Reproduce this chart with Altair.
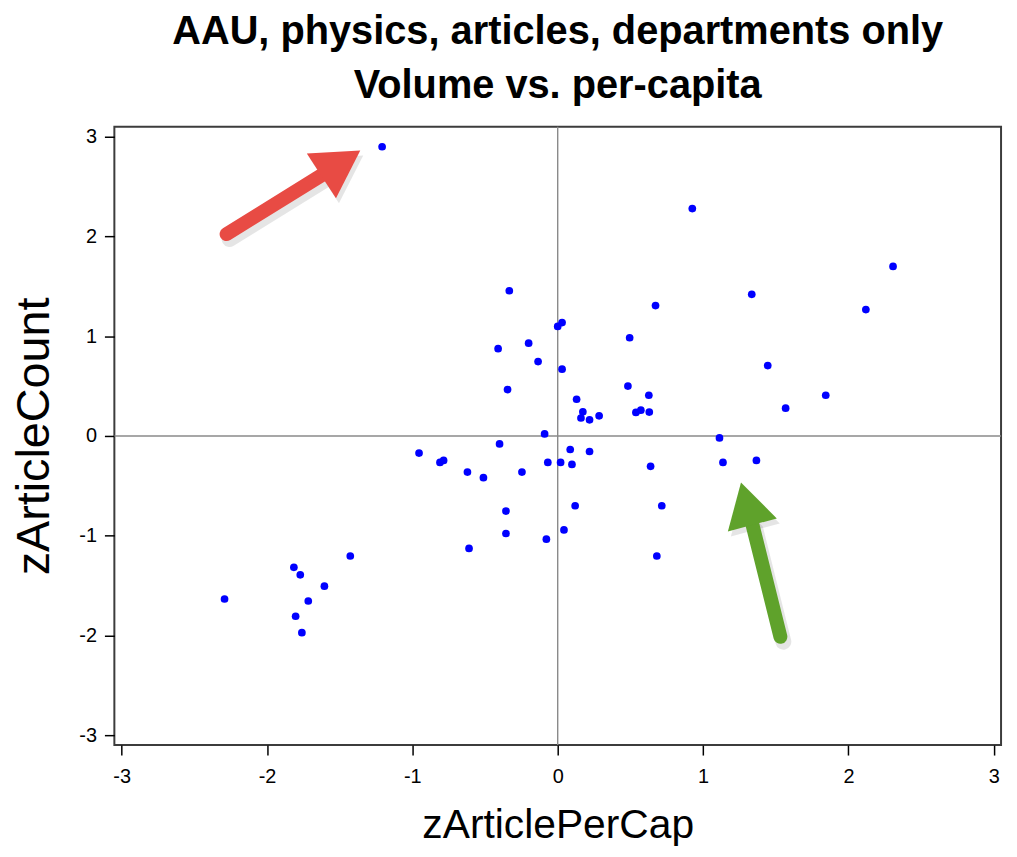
import altair as alt
import pandas as pd

# ---- data ----
z_article_per_cap = [
    -1.208, -0.333, -0.41, -0.20, -0.135, -0.345, -0.09, -0.40,
    0.926, 2.307, 1.335, 2.12, 0.673, 0.0, 0.03, 0.495, 0.03, 1.445,
    0.483, 0.13, 0.173, 0.16, 0.219, 0.285, 0.538, 0.572, 0.63, 0.627,
    1.568, 1.844, 1.113,
    -0.954, -0.81, -0.785, -0.621, -0.511, -0.246, -0.068,
    -0.356, -0.356, -0.078, -0.61, -1.427, -1.815, -1.771, -1.605,
    -2.292, -1.716, -1.803, -1.76,
    0.086, 0.219, 0.02, 0.098, 0.639, 1.137, 1.367, 0.12, 0.716, 0.043, 0.682,
]
z_article_count = [
    2.90, 1.456, 0.875, 0.93, 0.746, 0.465, 0.02, -0.08,
    2.28, 1.70, 1.42, 1.267, 1.307, 1.098, 1.137, 0.985, 0.67, 0.706,
    0.50, 0.368, 0.242, 0.18, 0.162, 0.202, 0.236, 0.259, 0.239, 0.408,
    0.279, 0.408, -0.02,
    -0.172, -0.265, -0.245, -0.362, -0.418, -0.362, -0.265,
    -0.753, -0.978, -1.035, -1.128, -1.204, -1.317, -1.393, -1.506,
    -1.635, -1.655, -1.808, -1.973,
    -0.136, -0.156, -0.265, -0.285, -0.305, -0.265, -0.245, -0.70, -0.70, -0.942, -1.204,
]
tick_values = [-3, -2, -1, 0, 1, 2, 3]
title_lines = ["AAU, physics, articles, departments only", "Volume vs. per-capita"]

# annotation arrows (data units): tail, shaft end, head centre, head angle
arrow_colors = ["#E84B44", "#5FA22B"]
arrow_tail_x = [-2.278, 1.532]
arrow_tail_y = [2.024, -2.014]
arrow_shaft_end_x = [-1.594, 1.341]
arrow_shaft_end_y = [2.642, -0.897]
arrow_head_x = [-1.492, 1.300]
arrow_head_y = [2.735, -0.680]
arrow_head_angle = [57, 345]
arrow_head_size = [2900, 2600]

points = pd.DataFrame({"zArticlePerCap": z_article_per_cap, "zArticleCount": z_article_count})
shafts = pd.DataFrame({
    "zArticlePerCap": arrow_tail_x, "zArticleCount": arrow_tail_y,
    "x_end": arrow_shaft_end_x, "y_end": arrow_shaft_end_y, "c": arrow_colors,
})
heads = pd.DataFrame({
    "zArticlePerCap": arrow_head_x, "zArticleCount": arrow_head_y,
    "ang": arrow_head_angle, "sz": arrow_head_size, "c": arrow_colors,
})
refs = pd.DataFrame({"zArticlePerCap": [0.0], "zArticleCount": [0.0]})

FONT = "Liberation Sans, Arial, sans-serif"
xscale = alt.Scale(domain=[-3.05, 3.05], nice=False, zero=False)
yscale = alt.Scale(domain=[-3.1, 3.1], nice=False, zero=False)

xaxis = alt.Axis(
    values=tick_values, labelExpr="'' + datum.value", grid=False, domain=False,
    tickSize=10, tickWidth=1.5, tickColor="black",
    labelFont=FONT, labelFontSize=20, labelColor="black", labelPadding=12,
    title="zArticlePerCap", titleFont=FONT, titleFontSize=41, titleFontWeight="normal",
    titleColor="black", titleBaseline="alphabetic", titleY=93,
)
yaxis = alt.Axis(
    values=tick_values, labelExpr="'' + datum.value", grid=False, domain=False,
    tickSize=10, tickWidth=1.5, tickColor="black",
    labelFont=FONT, labelFontSize=20, labelColor="black", labelPadding=8,
    title="zArticleCount", titleFont=FONT, titleFontSize=47, titleFontWeight="normal",
    titleColor="black", titleBaseline="alphabetic", titleX=-66,
)

X = alt.X("zArticlePerCap:Q", scale=xscale, axis=xaxis)
Y = alt.Y("zArticleCount:Q", scale=yscale, axis=yaxis)

vline = alt.Chart(refs).mark_rule(color="#8a8a8a", strokeWidth=1.4).encode(x=X)
hline = alt.Chart(refs).mark_rule(color="#8a8a8a", strokeWidth=1.4).encode(y=Y)

dots = alt.Chart(points).mark_circle(size=60, color="#0000FF", opacity=1).encode(x=X, y=Y)

shadow_shaft = alt.Chart(shafts).mark_rule(
    strokeWidth=16, strokeCap="round", color="#000000", opacity=0.1, xOffset=3, yOffset=5,
    x2Offset=3, y2Offset=5,
).encode(x=X, y=Y, x2="x_end:Q", y2="y_end:Q")
shadow_head = alt.Chart(heads).mark_point(
    shape="triangle-up", filled=True, opacity=0.1, color="#000000", xOffset=3, yOffset=5,
).encode(x=X, y=Y, angle=alt.Angle("ang:Q", scale=None), size=alt.Size("sz:Q", scale=None))
shaft = alt.Chart(shafts).mark_rule(strokeWidth=14, strokeCap="round", opacity=1).encode(
    x=X, y=Y, x2="x_end:Q", y2="y_end:Q", color=alt.Color("c:N", scale=None)
)
head = alt.Chart(heads).mark_point(shape="triangle-up", filled=True, opacity=1).encode(
    x=X, y=Y, angle=alt.Angle("ang:Q", scale=None), size=alt.Size("sz:Q", scale=None),
    color=alt.Color("c:N", scale=None),
)

chart = alt.layer(vline, hline, dots, shadow_shaft, shadow_head, shaft, head).properties(
    width=892, height=622,
    title=alt.TitleParams(
        text=title_lines, font=FONT, fontSize=40, fontWeight="bold", color="black",
        anchor="middle", lineHeight=55, offset=20,
    ),
    autosize=alt.AutoSizeParams(type="none"),
    padding={"left": 107, "top": 117, "right": 8, "bottom": 102},
).configure(background="white").configure_view(stroke="#3c3c3c", strokeWidth=2)

chart.save("out.html", embed_options={"renderer": "svg", "actions": False})
